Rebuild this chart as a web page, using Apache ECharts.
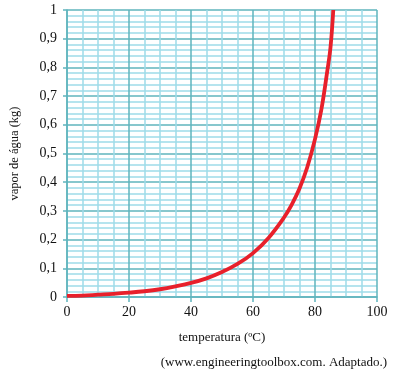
<!DOCTYPE html>
<html>
<head>
<meta charset="utf-8">
<script src="https://cdn.jsdelivr.net/npm/echarts@6/dist/echarts.min.js"></script>
<style>html,body{margin:0;padding:0;background:#fff;}#c{width:400px;height:378px;}</style>
</head>
<body>
<div id="c"></div>
<script>
// Data
const temperatures = [0, 5, 10, 15, 20, 25, 30, 35, 40, 45, 50, 55, 60, 65, 70, 72.5, 75, 77.5, 80, 82, 84, 85, 85.9];
const vaporKg      = [0.004, 0.005, 0.008, 0.011, 0.015, 0.020, 0.027, 0.037, 0.049, 0.065, 0.087, 0.115, 0.153, 0.206, 0.277, 0.322, 0.378, 0.452, 0.55, 0.65, 0.79, 0.87, 1.0];
const xTicks = [0, 20, 40, 60, 80, 100];
const yTicks = [0, 0.1, 0.2, 0.3, 0.4, 0.5, 0.6, 0.7, 0.8, 0.9, 1];
const xTitle = 'temperatura (ºC)';
const yTitle = 'vapor de água (kg)';
const sourceNote = '(www.engineeringtoolbox.com. Adaptado.)';

const MAJOR = '#5fb4bd';
const MINOR = '#9fdbe9';
const FONT = '"Liberation Serif", "Times New Roman", serif';
const TXT = '#111';

const chart = echarts.init(document.getElementById('c'));
chart.setOption({
  animation: false,
  backgroundColor: '#fff',
  grid: { left: 65, right: 23, top: 10, bottom: 81 },
  xAxis: {
    type: 'value',
    min: xTicks[0], max: xTicks[xTicks.length - 1], interval: 20,
    name: xTitle, nameLocation: 'middle', nameGap: 34,
    nameTextStyle: { fontFamily: FONT, fontSize: 13, color: TXT },
    axisLine: { show: true, lineStyle: { color: MAJOR, width: 1.5 } },
    axisTick: { show: true, length: 5, lineStyle: { color: MAJOR, width: 1.5 } },
    axisLabel: { fontFamily: FONT, fontSize: 14, color: TXT, margin: 8 },
    splitLine: { show: true, lineStyle: { color: MAJOR, width: 1.5 } },
    minorTick: { show: false, splitNumber: 4 },
    minorSplitLine: { show: true, lineStyle: { color: MINOR, width: 1.5 } }
  },
  yAxis: {
    type: 'value',
    min: 0, max: 1, interval: 0.1,
    name: yTitle, nameLocation: 'middle', nameGap: 46, nameRotate: 90,
    nameTextStyle: { fontFamily: FONT, fontSize: 12.5, color: TXT },
    axisLine: { show: true, lineStyle: { color: MAJOR, width: 1.5 } },
    axisTick: { show: true, length: 4, lineStyle: { color: MAJOR, width: 1.5 } },
    axisLabel: {
      fontFamily: FONT, fontSize: 14, color: TXT, margin: 10,
      formatter: v => {
        const r = Math.round(v * 10) / 10;
        if (r === 0) return '0';
        if (r === 1) return '1';
        return r.toFixed(1).replace('.', ',');
      }
    },
    splitLine: { show: true, lineStyle: { color: MAJOR, width: 1.5 } },
    minorTick: { show: false, splitNumber: 5 },
    minorSplitLine: { show: true, lineStyle: { color: MINOR, width: 1.5 } }
  },
  graphic: [{
    type: 'text', right: 13, top: 356,
    style: { text: sourceNote, font: '13px ' + FONT, fill: TXT }
  }],
  series: [{
    type: 'line',
    data: temperatures.map((t, i) => [t, vaporKg[i]]),
    smooth: 0.4,
    showSymbol: false,
    clip: true,
    lineStyle: { color: '#e8202b', width: 3.8 }
  }]
});
</script>
</body>
</html>
